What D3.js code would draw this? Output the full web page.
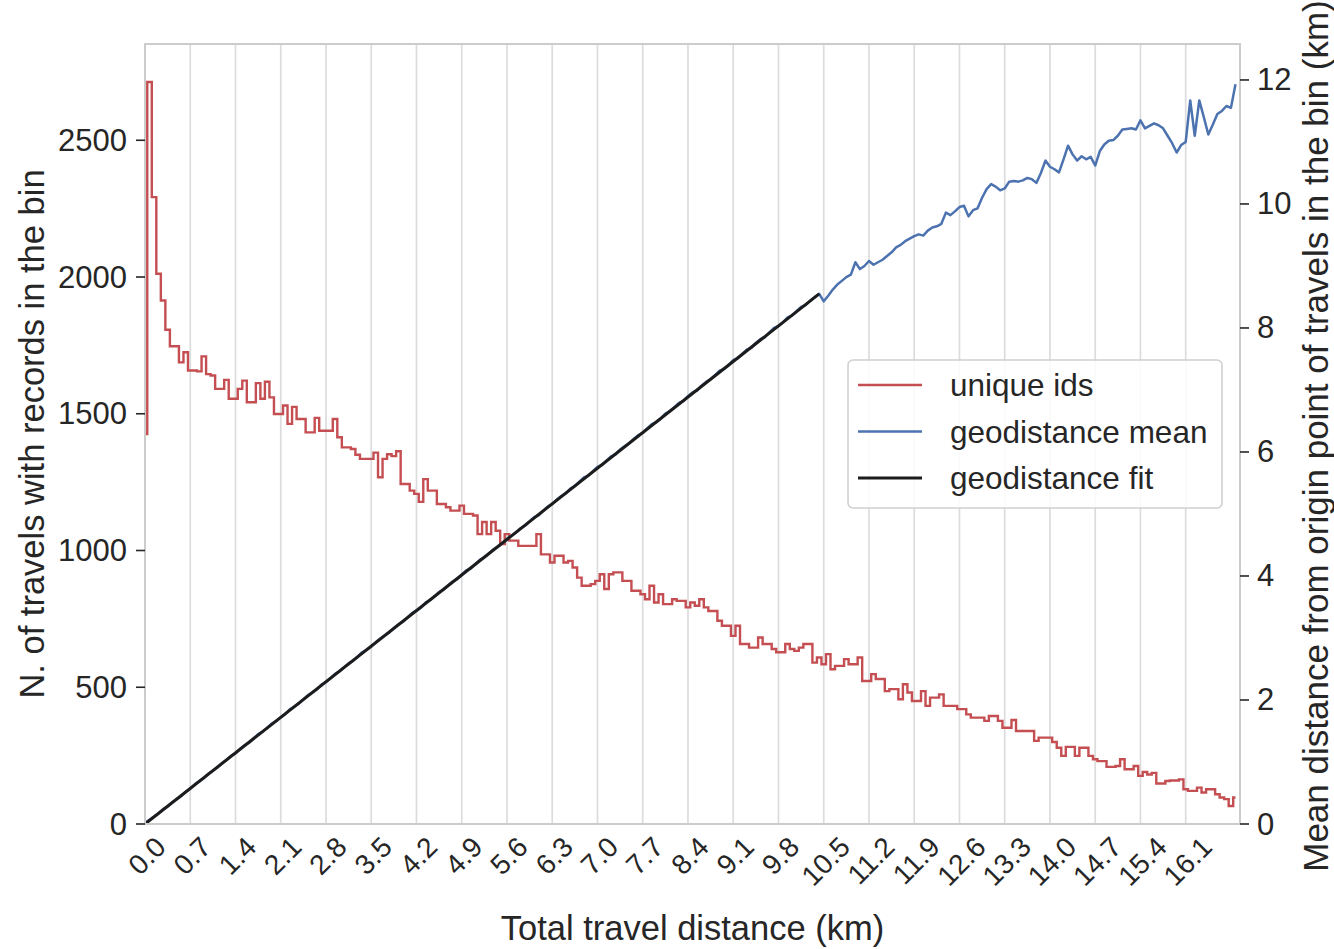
<!DOCTYPE html>
<html>
<head>
<meta charset="utf-8">
<script src="https://cdn.jsdelivr.net/npm/d3@7"></script>
<style>
  body { margin: 0; background: #ffffff; }
  svg text { font-family: "Liberation Sans", Arial, Helvetica, sans-serif; fill: #262626; }
</style>
</head>
<body>
<svg id="chart" width="1334" height="949"></svg>
<script>
// Histogram bin width along the travel distance axis (km)
const binWidth = 0.07;

// Number of travels with records in each distance bin
const uniqueIds = [
  1426,2713,2292,2012,1914,1807,1747,1747,1688,1725,
  1658,1658,1655,1710,1645,1640,1591,1591,1624,1555,
  1555,1591,1621,1542,1542,1612,1555,1617,1560,1499,
  1499,1530,1463,1525,1481,1481,1432,1432,1485,1438,
  1438,1438,1481,1414,1377,1377,1371,1350,1335,1335,
  1335,1358,1268,1335,1352,1345,1363,1243,1243,1219,
  1207,1178,1261,1219,1219,1170,1170,1158,1146,1146,
  1164,1134,1134,1128,1060,1104,1060,1104,1072,1024,
  1060,1036,1036,1017,1017,1017,1017,1060,986,986,
  956,981,981,956,962,938,901,871,871,877,
  889,913,859,913,920,920,889,889,853,853,
  840,822,871,810,840,804,804,822,816,816,
  792,810,798,822,792,779,779,743,725,725,
  688,725,658,658,645,645,682,658,658,640,
  628,628,658,640,633,645,658,658,590,609,
  584,621,566,578,578,603,584,584,609,523,
  523,548,530,530,486,493,493,456,511,481,
  450,450,486,432,462,462,474,432,432,432,
  420,420,401,389,389,389,377,395,395,377,
  352,352,380,340,340,340,340,304,316,316,
  316,300,279,249,282,282,249,279,279,249,
  237,230,230,209,209,212,237,200,200,212,
  176,190,181,187,148,148,157,159,159,163,
  127,121,121,133,115,127,127,109,97,91,
  66,97
];

// Mean geodistance from the origin point for travels in each bin (km)
const geoMean = [
  0.02,0.07,0.12,0.17,0.24,0.28,0.35,0.40,0.45,0.52,
  0.57,0.64,0.69,0.74,0.81,0.86,0.91,0.98,1.03,1.10,
  1.14,1.21,1.27,1.31,1.38,1.45,1.49,1.55,1.62,1.66,
  1.72,1.77,1.85,1.89,1.94,2.01,2.08,2.12,2.17,2.25,
  2.29,2.35,2.42,2.46,2.53,2.59,2.63,2.70,2.77,2.81,
  2.86,2.93,2.99,3.04,3.09,3.16,3.22,3.26,3.33,3.40,
  3.44,3.49,3.57,3.61,3.67,3.74,3.78,3.85,3.91,3.95,
  4.02,4.09,4.12,4.19,4.26,4.30,4.36,4.43,4.47,4.53,
  4.60,4.65,4.70,4.77,4.81,4.88,4.95,4.98,5.05,5.12,
  5.16,5.23,5.29,5.33,5.41,5.45,5.52,5.59,5.62,5.69,
  5.76,5.79,5.86,5.93,5.96,6.04,6.09,6.14,6.21,6.27,
  6.31,6.38,6.45,6.48,6.54,6.62,6.66,6.72,6.79,6.82,
  6.90,6.96,6.99,7.07,7.13,7.17,7.24,7.31,7.34,7.40,
  7.48,7.51,7.58,7.65,7.68,7.76,7.82,7.85,7.93,8.00,
  8.03,8.09,8.17,8.20,8.27,8.34,8.37,8.44,8.50,8.55,
  8.43,8.52,8.62,8.70,8.76,8.82,8.86,9.06,8.95,9.00,
  9.08,9.02,9.06,9.10,9.16,9.22,9.30,9.34,9.40,9.44,
  9.48,9.51,9.49,9.57,9.62,9.64,9.68,9.86,9.82,9.88,
  9.95,9.97,9.80,9.90,9.93,10.10,10.24,10.32,10.28,10.22,
  10.25,10.36,10.37,10.36,10.38,10.42,10.40,10.34,10.50,10.70,
  10.60,10.56,10.51,10.72,10.94,10.80,10.70,10.77,10.72,10.76,
  10.62,10.85,10.96,11.02,11.03,11.10,11.20,11.21,11.22,11.20,
  11.35,11.22,11.26,11.30,11.27,11.22,11.10,10.98,10.83,10.95,
  11.00,11.67,11.10,11.67,11.40,11.12,11.28,11.45,11.50,11.58,
  11.55,11.93
];

// Linear fit of the mean geodistance: endpoints of the fitted segment
const fitDistance = [0, 10.43];
const fitGeo = [0, 8.55];

// Axis ticks
const xTickLabels = ["0.0","0.7","1.4","2.1","2.8","3.5","4.2","4.9","5.6","6.3","7.0","7.7",
                     "8.4","9.1","9.8","10.5","11.2","11.9","12.6","13.3","14.0","14.7","15.4","16.1"];
const leftTicks = [0, 500, 1000, 1500, 2000, 2500];
const rightTicks = [0, 2, 4, 6, 8, 10, 12];

// Legend entries
const seriesNames = ["unique ids", "geodistance mean", "geodistance fit"];
const seriesColors = ["#c44e52", "#4c72b0", "#1c1c1c"];
const seriesWidths = [2.4, 2.5, 3];

const svg = d3.select("#chart");
const plot = { left: 145, right: 1240, top: 44, bottom: 824 };

const x = d3.scaleLinear().domain([0, 16.94]).range([plot.left, plot.right]);
const yLeft = d3.scaleLinear().domain([0, 2852]).range([plot.bottom, plot.top]);
const yRight = d3.scaleLinear().domain([0, 12.58]).range([plot.bottom, plot.top]);

const binX = i => i * binWidth;

// Vertical grid lines at the x ticks
svg.append("g").selectAll("line")
  .data(xTickLabels)
  .join("line")
  .attr("x1", d => x(+d)).attr("x2", d => x(+d))
  .attr("y1", plot.top).attr("y2", plot.bottom)
  .attr("stroke", "#dcdcdc").attr("stroke-width", 1.7);

// Counts per bin, drawn as a step line
const countLine = d3.line()
  .curve(d3.curveStep)
  .x((d, i) => x(binX(i)))
  .y(d => yLeft(d));
svg.append("path")
  .datum(uniqueIds)
  .attr("d", countLine)
  .attr("fill", "none")
  .attr("stroke", seriesColors[0])
  .attr("stroke-width", seriesWidths[0]);

// Mean geodistance per bin
const meanLine = d3.line()
  .x((d, i) => x(binX(i)))
  .y(d => yRight(d));
svg.append("path")
  .datum(geoMean)
  .attr("d", meanLine)
  .attr("fill", "none")
  .attr("stroke", seriesColors[1])
  .attr("stroke-width", seriesWidths[1])
  .attr("stroke-linejoin", "round");

// Linear fit
svg.append("path")
  .datum(d3.zip(fitDistance, fitGeo))
  .attr("d", d3.line().x(d => x(d[0])).y(d => yRight(d[1])))
  .attr("fill", "none")
  .attr("stroke", seriesColors[2])
  .attr("stroke-width", seriesWidths[2]);

// Frame
svg.append("rect")
  .attr("x", plot.left).attr("y", plot.top)
  .attr("width", plot.right - plot.left).attr("height", plot.bottom - plot.top)
  .attr("fill", "none").attr("stroke", "#cccccc").attr("stroke-width", 2);

// Left axis
const leftAxis = svg.append("g");
leftAxis.selectAll("line").data(leftTicks).join("line")
  .attr("x1", plot.left - 9).attr("x2", plot.left)
  .attr("y1", d => yLeft(d)).attr("y2", d => yLeft(d))
  .attr("stroke", "#262626").attr("stroke-width", 1.6);
leftAxis.selectAll("text").data(leftTicks).join("text")
  .attr("x", plot.left - 18).attr("y", d => yLeft(d))
  .attr("text-anchor", "end").attr("dominant-baseline", "central")
  .attr("font-size", 31).text(d => d);

// Right axis
const rightAxis = svg.append("g");
rightAxis.selectAll("line").data(rightTicks).join("line")
  .attr("x1", plot.right).attr("x2", plot.right + 9)
  .attr("y1", d => yRight(d)).attr("y2", d => yRight(d))
  .attr("stroke", "#262626").attr("stroke-width", 1.6);
rightAxis.selectAll("text").data(rightTicks).join("text")
  .attr("x", plot.right + 17).attr("y", d => yRight(d))
  .attr("text-anchor", "start").attr("dominant-baseline", "central")
  .attr("font-size", 31).text(d => d);

// Bottom axis: labels rotated 45 degrees, centred under each tick
const xFont = 28;
const xLabels = svg.append("g").selectAll("text").data(xTickLabels).join("text")
  .attr("text-anchor", "middle").attr("dominant-baseline", "central")
  .attr("font-size", xFont).text(d => d);
xLabels.each(function(d) {
  const w = this.getComputedTextLength();
  const half = (w + 0.72 * xFont) * Math.SQRT1_2 / 2;
  d3.select(this).attr("transform", `translate(${x(+d) + 2},${plot.bottom + 11 + half}) rotate(-45)`);
});

// Axis titles
svg.append("text")
  .attr("x", (plot.left + plot.right) / 2).attr("y", 940)
  .attr("text-anchor", "middle").attr("font-size", 34.5)
  .text("Total travel distance (km)");
svg.append("text")
  .attr("transform", `translate(44,${(plot.top + plot.bottom) / 2}) rotate(-90)`)
  .attr("text-anchor", "middle").attr("font-size", 34.5)
  .text("N. of travels with records in the bin");
svg.append("text")
  .attr("transform", `translate(1328,${(plot.top + plot.bottom) / 2 + 2}) rotate(-90)`)
  .attr("text-anchor", "middle").attr("font-size", 35)
  .text("Mean distance from origin point of travels in the bin (km)");

// Legend
const legend = svg.append("g");
legend.append("rect")
  .attr("x", 848).attr("y", 360).attr("width", 374).attr("height", 148)
  .attr("rx", 5).attr("fill", "#ffffff").attr("fill-opacity", 0.85)
  .attr("stroke", "#d0d0d0").attr("stroke-width", 1.6);
const rows = legend.selectAll("g").data(seriesNames).join("g")
  .attr("transform", (d, i) => `translate(0,${385 + i * 46.5})`);
rows.append("line")
  .attr("x1", 858).attr("x2", 922).attr("y1", 0).attr("y2", 0)
  .attr("stroke", (d, i) => seriesColors[i])
  .attr("stroke-width", (d, i) => seriesWidths[i]);
rows.append("text")
  .attr("x", 950).attr("y", 0).attr("dominant-baseline", "central")
  .attr("font-size", 31.5).text(d => d);
</script>
</body>
</html>
